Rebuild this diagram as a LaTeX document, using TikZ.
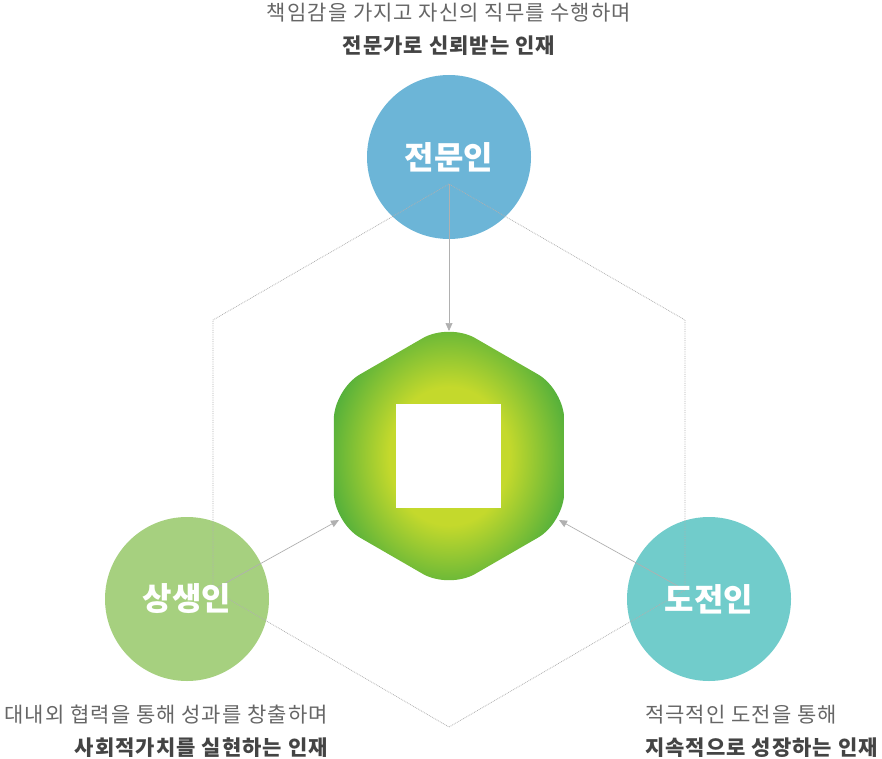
\documentclass[tikz,border=0pt]{standalone}
\usepackage{fontspec}
\setmainfont{Noto Sans CJK KR}
\usetikzlibrary{arrows.meta}
\definecolor{cblue}{HTML}{6CB5D7}
\definecolor{cgreen}{HTML}{A6D07F}
\definecolor{cteal}{HTML}{71CCCB}
\definecolor{hin}{HTML}{C4D92C}
\definecolor{hout}{HTML}{3EA83E}
\definecolor{tlight}{HTML}{666666}
\definecolor{tdark}{HTML}{444444}
\definecolor{lgray}{HTML}{B0B0B0}
\pgfdeclareradialshading{hexshade}{\pgfpoint{0bp}{0bp}}{color(0bp)=(hin); color(13bp)=(hin); color(29bp)=(hout); color(50bp)=(hout)}
\newfontfamily\txtfont[LetterSpace=5]{Noto Sans CJK KR}
\tikzset{
  bigcircle/.style={circle, minimum size=164pt, inner sep=0pt},
  circlabel/.style={text=white, font=\fontsize{32}{32}\selectfont\bfseries},
  hexline/.style={draw=lgray, line width=0.8pt, densely dotted},
  arr/.style={draw=lgray, line width=0.7pt, -{Triangle[length=8pt,width=7pt]}},
  lineA/.style={text=tlight, font=\txtfont\fontsize{21}{22}\selectfont, inner sep=0pt},
  lineB/.style={text=tdark, font=\txtfont\fontsize{21}{22}\selectfont\bfseries, inner sep=0pt},
}
\begin{document}
\begin{tikzpicture}[x=1pt,y=-1pt]
\useasboundingbox (0,0) rectangle (882,759);
% circles
\node[bigcircle, fill=cblue] (pro) at (449,157) {};
\node[bigcircle, fill=cgreen] (coop) at (187,599) {};
\node[bigcircle, fill=cteal] (chal) at (709,599) {};
% outer hexagon vertices
\coordinate (vt) at (449,184);
\coordinate (vul) at (213,320);
\coordinate (vll) at (213,590);
\coordinate (vb) at (449,727);
\coordinate (vlr) at (685,590);
\coordinate (vur) at (685,320);
% central hexagon
\coordinate (ht) at (449,323);
\coordinate (hur) at (564.2,389.5);
\coordinate (hlr) at (564.2,522.5);
\coordinate (hb) at (449,589);
\coordinate (hll) at (333.8,522.5);
\coordinate (hul) at (333.8,389.5);
\shade[shading=hexshade, rounded corners=30pt] (ht) -- (hur) -- (hlr) -- (hb) -- (hll) -- (hul) -- cycle;
\node[fill=white, minimum width=105pt, minimum height=104pt, inner sep=0pt] (sq) at (448.5,456) {};
% dotted hexagon
\draw[hexline] (vt) -- (vul) -- (vll) -- (vb) -- (vlr) -- (vur) -- cycle;
% arrows
\coordinate (at) at (449,331);
\coordinate (al) at (339,520);
\coordinate (ar) at (559,520);
\draw[arr] (vt) -- (at);
\draw[arr] (vll) -- (al);
\draw[arr] (vlr) -- (ar);
% circle labels
\node[circlabel] (proT) at (pro) {전문인};
\node[circlabel] (coopT) at (coop) {상생인};
\node[circlabel] (chalT) at (chal) {도전인};
% texts
\node[lineA] (t1) at (449,13) {책임감을 가지고 자신의 직무를 수행하며};
\node[lineB] (t2) at (449,46) {전문가로 신뢰받는 인재};
\node[lineA, anchor=east] (l1) at (328,715) {대내외 협력을 통해 성과를 창출하며};
\node[lineB, anchor=east] (l2) at (328,748) {사회적가치를 실현하는 인재};
\node[lineA, anchor=west] (r1) at (645,715) {적극적인 도전을 통해};
\node[lineB, anchor=west] (r2) at (645,748) {지속적으로 성장하는 인재};
\end{tikzpicture}
\end{document}
